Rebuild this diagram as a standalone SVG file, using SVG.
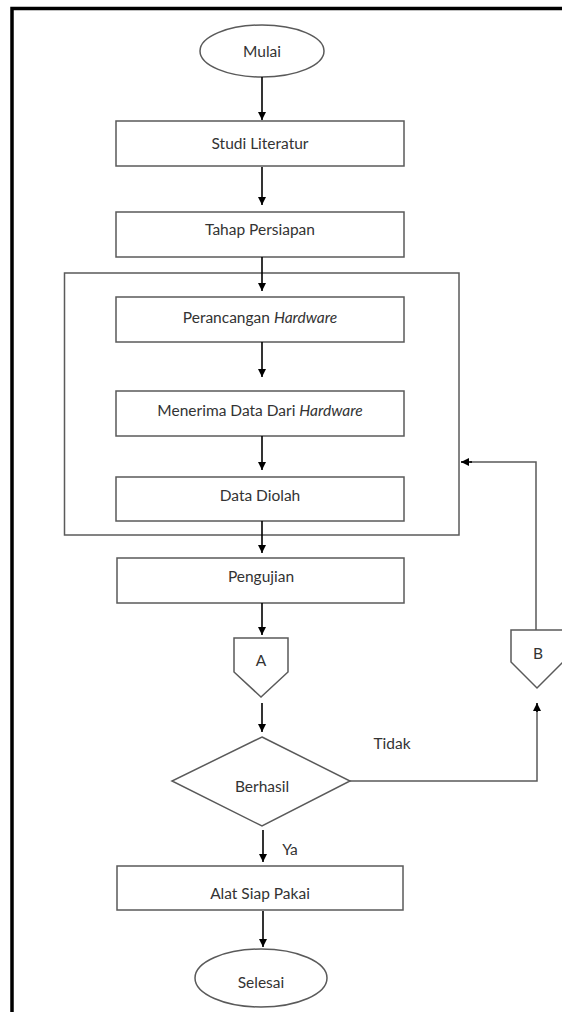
<svg xmlns="http://www.w3.org/2000/svg" width="562" height="1012" viewBox="0 0 562 1012">
  <defs>
    <marker id="arrow" viewBox="0 0 10 10" refX="10" refY="5" markerWidth="8" markerHeight="8" markerUnits="userSpaceOnUse" orient="auto">
      <path d="M0,0 L10,5 L0,10 z" fill="#000"/>
    </marker>
    <style>
      .shape { fill: #fff; stroke: #5a5a5a; stroke-width: 1.5; }
      .frame { fill: none; stroke: #5a5a5a; stroke-width: 1.5; }
      .label { font-family: Lato, "Open Sans", sans-serif; font-size: 15.5px; fill: #333; text-anchor: middle; }
      .flow { fill: none; stroke: #000; stroke-width: 1.6; }
      .link { fill: none; stroke: #5a5a5a; stroke-width: 1.5; }
    </style>
  </defs>

  <rect width="562" height="1012" fill="#fff"/>

  <!-- page border: top and left edges -->
  <path d="M12,1012 V8.5 H562" fill="none" stroke="#000" stroke-width="3.5"/>

  <!-- grouping frame around hardware steps -->
  <rect id="process-frame" class="frame" x="64.5" y="273" width="394.5" height="262"/>

  <g id="mulai">
    <ellipse class="shape" cx="262" cy="51" rx="62" ry="26"/>
    <text class="label" x="262" y="56.5">Mulai</text>
  </g>
  <g id="studi-literatur">
    <rect class="shape" x="116" y="121" width="288" height="45"/>
    <text class="label" x="260" y="148.5">Studi Literatur</text>
  </g>
  <g id="tahap-persiapan">
    <rect class="shape" x="116" y="212" width="288" height="45"/>
    <text class="label" x="260" y="234.5">Tahap Persiapan</text>
  </g>
  <g id="perancangan-hardware">
    <rect class="shape" x="116" y="297" width="288" height="45"/>
    <text class="label" x="260" y="322.5">Perancangan <tspan font-style="italic">Hardware</tspan></text>
  </g>
  <g id="menerima-data">
    <rect class="shape" x="116" y="391" width="288" height="45"/>
    <text class="label" x="260" y="415.5">Menerima Data Dari <tspan font-style="italic">Hardware</tspan></text>
  </g>
  <g id="data-diolah">
    <rect class="shape" x="116" y="477" width="288" height="44"/>
    <text class="label" x="260" y="500.5">Data Diolah</text>
  </g>
  <g id="pengujian">
    <rect class="shape" x="117" y="558" width="287" height="45"/>
    <text class="label" x="261" y="581.5">Pengujian</text>
  </g>
  <g id="connector-a">
    <path class="shape" d="M234,638 H288 V672 L261,697 L234,672 Z"/>
    <text class="label" x="261" y="665.5">A</text>
  </g>
  <g id="connector-b">
    <path class="shape" d="M511,630 H563 V662 L537,688 L511,662 Z"/>
    <text class="label" x="538" y="658.5">B</text>
  </g>
  <g id="berhasil">
    <path class="shape" d="M262,737 L350,781 L262,826 L172,781 Z"/>
    <text class="label" x="262" y="791.5">Berhasil</text>
  </g>
  <g id="alat-siap-pakai">
    <rect class="shape" x="117" y="866" width="286" height="44"/>
    <text class="label" x="260" y="898.5">Alat Siap Pakai</text>
  </g>
  <g id="selesai">
    <ellipse class="shape" cx="261" cy="978" rx="66" ry="29"/>
    <text class="label" x="261" y="987.5">Selesai</text>
  </g>

  <g id="connectors">
    <line class="flow" x1="262" y1="77" x2="262" y2="120" marker-end="url(#arrow)"/>
    <line class="flow" x1="262" y1="167" x2="262" y2="205" marker-end="url(#arrow)"/>
    <line class="flow" x1="262" y1="257" x2="262" y2="291" marker-end="url(#arrow)"/>
    <line class="flow" x1="262" y1="342" x2="262" y2="377" marker-end="url(#arrow)"/>
    <line class="flow" x1="262" y1="436" x2="262" y2="470" marker-end="url(#arrow)"/>
    <line class="flow" x1="262" y1="521" x2="262" y2="553" marker-end="url(#arrow)"/>
    <line class="flow" x1="262" y1="603" x2="262" y2="635" marker-end="url(#arrow)"/>
    <line class="flow" x1="262" y1="703" x2="262" y2="732" marker-end="url(#arrow)"/>
    <line class="flow" x1="263" y1="830" x2="263" y2="862" marker-end="url(#arrow)"/>
    <line class="flow" x1="263" y1="911" x2="263" y2="947" marker-end="url(#arrow)"/>
    <!-- "Tidak" branch up to B -->
    <path class="link" d="M350,781 H537 V710"/>
    <line class="flow" x1="537" y1="712" x2="537" y2="703" marker-end="url(#arrow)"/>
    <!-- B back into the hardware frame -->
    <path class="link" d="M536,630 V462 H470"/>
    <line class="flow" x1="472" y1="462" x2="461" y2="462" marker-end="url(#arrow)"/>
    <text class="label" x="392" y="748.5">Tidak</text>
    <text class="label" x="290" y="854.5">Ya</text>
  </g>
</svg>
